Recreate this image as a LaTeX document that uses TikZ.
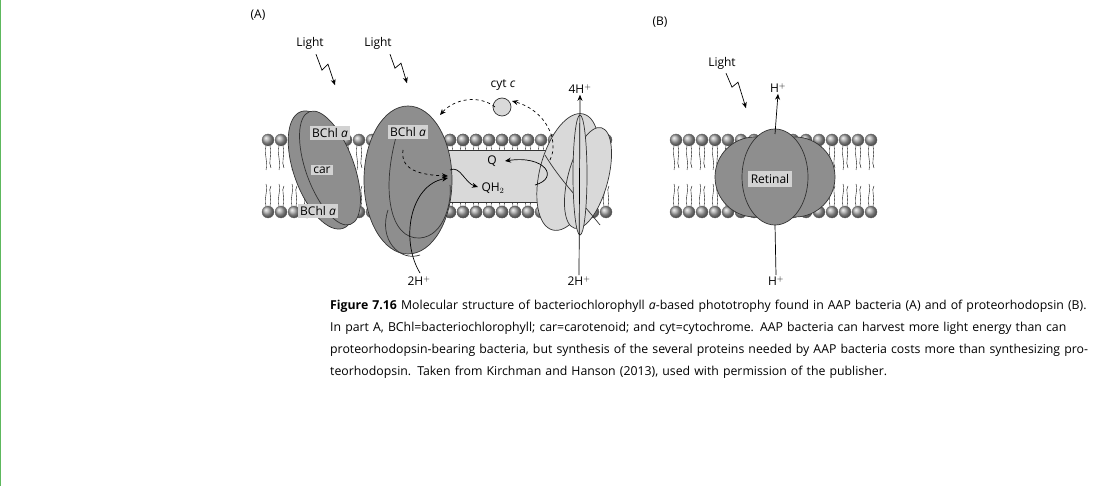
\documentclass[tikz,border=0pt]{standalone}
\usepackage{fontspec}
\setmainfont{Open Sans}
\usetikzlibrary{arrows.meta,decorations.pathmorphing}
\definecolor{dk}{HTML}{8E8E8E}
\definecolor{lt}{HTML}{D9D9D9}
\definecolor{bx}{HTML}{D2D2D2}
\definecolor{grn}{HTML}{5DB85D}
\begin{document}
\begin{tikzpicture}[x=1pt,y=-1pt,
  lab/.style={font=\fontsize{12}{14}\selectfont, inner sep=1pt},
  box/.style={lab, fill=bx, inner sep=2pt},
  prot/.style={draw=black!80, line width=0.7pt},
  head/.style={ball color=gray!70, draw=black!60, line width=0.3pt},
  arr/.style={-{Stealth[length=6pt,width=5pt]}, line width=0.7pt},
  dsh/.style={arr, dashed},
  captxt/.style={font=\fontsize{12.3}{22}\selectfont, align=left, anchor=north west, inner sep=0pt, text width=760pt}]
\useasboundingbox (0,0) rectangle (1106,486);
\fill[white] (0,0) rectangle (1106,486);
\draw[grn, line width=1.2pt] (0.6,0) -- (0.6,486);
% lipid membranes
\foreach \xa/\n in {268/26, 676/15} {
  \foreach \i in {0,...,\n} {
    \pgfmathsetmacro\x{\xa+13*\i}
    \draw[line width=0.4pt] (\x-2,146) .. controls (\x-4,156) and (\x,160) .. (\x-2,170);
    \draw[line width=0.4pt] (\x+2,146) .. controls (\x+4,156) and (\x,162) .. (\x+3,168);
    \draw[line width=0.4pt] (\x-2,206) .. controls (\x-4,196) and (\x,192) .. (\x-2,184);
    \draw[line width=0.4pt] (\x+2,206) .. controls (\x+4,196) and (\x,190) .. (\x+3,186);
    \shade[head] (\x,140) circle (6);
    \shade[head] (\x,212) circle (6);
  }
}
% Q pool
\draw[prot, fill=lt] (445,150) rectangle (548,202);
\foreach \x in {450,463,...,540} { \shade[head] (\x,140) circle (6); \shade[head] (\x,212) circle (6); }
% left LH complex
\draw[prot, fill=dk, rotate around={20:(322,170)}] (322,170) ellipse (28 and 62);
\draw[prot, fill=dk, rotate around={20:(330,168)}] (330,168) ellipse (24 and 60);
\node[box] (b1) at (330,133) {BChl \textit{a}};
\node[box] (car) at (322,170) {car};
\node[box] (b2) at (318,211) {BChl \textit{a}};
% reaction centre
\draw[prot, fill=dk] (408,180) ellipse (44 and 74);
\draw[prot] (398,130) .. controls (380,190) and (390,240) .. (420,238) .. controls (445,236) and (452,200) .. (450,185);
\draw[prot] (388,210) .. controls (378,240) and (400,262) .. (420,255);
\node[box] (b3) at (408,132) {BChl \textit{a}};
% bc1 complex
\draw[prot, fill=lt, rotate around={-15:(568,172)}] (568,172) ellipse (28 and 60);
\draw[prot, fill=lt, rotate around={-15:(588,178)}] (588,178) ellipse (20 and 52);
\draw[prot] (545,155) .. controls (560,180) and (580,200) .. (600,225);
\draw[prot, fill=lt] (580,175) ellipse (7 and 60);
% cyt c
\draw[prot, fill=lt] (502,107) circle (9);
\node[lab] (cyt) at (503,85) {cyt \textit{c}};
\node[lab] (Q) at (492,161) {Q};
\node[lab] (QH) at (493,188) {QH$_2$};
% electron flow
\draw[dsh] (403,150) .. controls (400,170) and (420,175) .. (448,176);
\draw[dsh] (495,107) .. controls (480,95) and (455,98) .. (440,115);
\draw[dsh] (550,160) .. controls (560,140) and (545,110) .. (512,101);
\draw[arr] (450,170) .. controls (460,165) and (465,183) .. (478,187);
\draw[arr] (535,185) .. controls (560,178) and (545,155) .. (505,161);
\draw[arr] (420,273) .. controls (400,240) and (410,185) .. (448,178);
% protons
\node[lab] (h2a) at (419,281) {2H$^+$};
\node[lab] (h4) at (580,89) {4H$^+$};
\node[lab] (h2b) at (579,281) {2H$^+$};
\draw[arr] (h2b.north) -- (h4.south);
% light
\node[lab] (L1) at (310,43) {Light};
\node[lab] (L2) at (378,43) {Light};
\draw[arr] (L1.south) ++(6,4) -- ++(6,16) -- ++(6,-6) -- ++(7,21);
\draw[arr] (L2.south) ++(12,4) -- ++(5,14) -- ++(6,-5) -- ++(6,20);
\node[lab] (A) at (258,15) {(A)};
% panel B
\node[lab] (B) at (660,22) {(B)};
\draw[prot, fill=dk] (755,177) circle (40);
\draw[prot, fill=dk] (795,177) circle (40);
\draw[prot, fill=dk] (775,177) ellipse (33 and 48);
\node[box, inner sep=3pt] (ret) at (770,179) {Retinal};
\node[lab] (L3) at (722,63) {Light};
\draw[arr] (L3.south) ++(4,3) -- ++(6,14) -- ++(6,-5) -- ++(8,26);
\node[lab] (hb1) at (778,88) {H$^+$};
\node[lab] (hb2) at (776,281) {H$^+$};
\draw[arr] (775,134) -- (hb1.south);
\draw[line width=0.7pt] (775,225) -- (hb2.north);
% caption
\node[captxt] (capt) at (330,300) {\textbf{Figure 7.16} Molecular structure of bacteriochlorophyll \textit{a}-based phototrophy found in AAP bacteria (A) and of proteorhodopsin (B). In part A, BChl=bacteriochlorophyll; car=carotenoid; and cyt=cytochrome. AAP bacteria can harvest more light energy than can proteorhodopsin-bearing bacteria, but synthesis of the several proteins needed by AAP bacteria costs more than synthesizing proteorhodopsin. Taken from Kirchman and Hanson (2013), used with permission of the publisher.};
\end{tikzpicture}
\end{document}
